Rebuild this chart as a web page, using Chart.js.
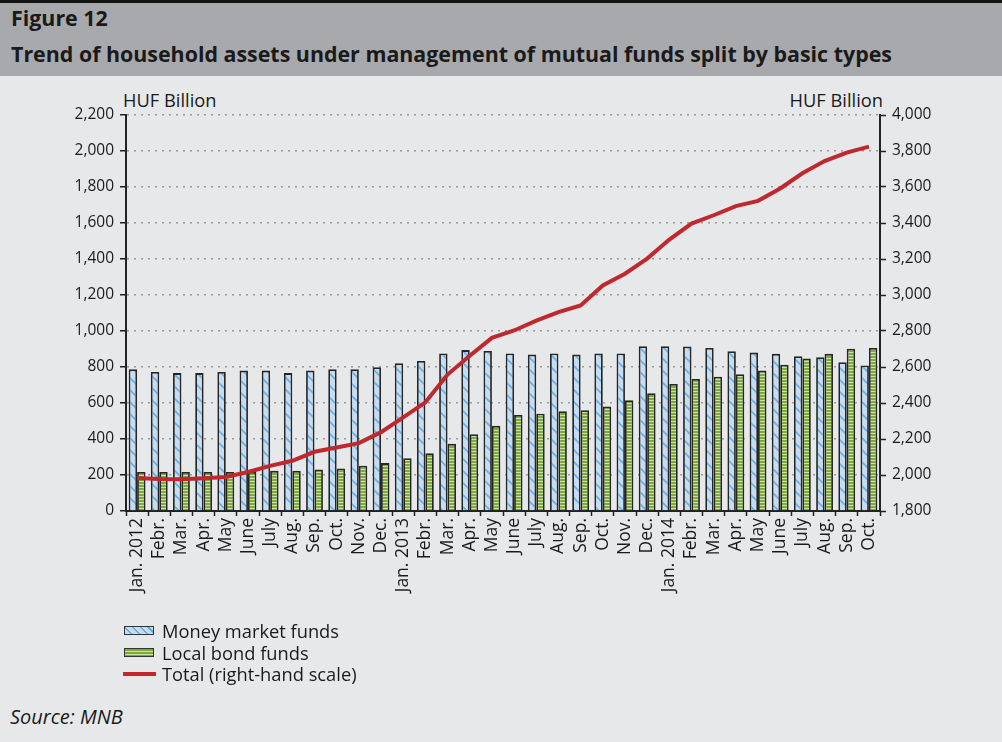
<!DOCTYPE html>
<html>
<head>
<meta charset="utf-8">
<script src="https://cdn.jsdelivr.net/npm/chart.js@4.4.1/dist/chart.umd.min.js"></script>
<style>
    body { margin: 0; width: 1002px; height: 742px; background: #e7e8ea; font-family: "Open Sans", sans-serif; color: #1a1a1a; position: relative; overflow: hidden; }
    .topline { position: absolute; left: 0; top: 0; width: 1002px; height: 3px; background: #141414; }
    .band { position: absolute; left: 0; top: 3px; width: 1002px; height: 73px; background: #a8a9ac; }
    .fig { position: absolute; left: 11px; top: 5px; font-weight: bold; font-size: 21.4px; line-height: 26px; }
    .title { position: absolute; left: 11px; top: 41px; font-weight: bold; font-size: 21.4px; line-height: 26px; white-space: nowrap; }
    .unit { position: absolute; top: 89px; font-size: 18.3px; line-height: 22px; }
    #chartBox { position: absolute; left: 0; top: 80px; width: 1002px; height: 540px; }
    .legend { position: absolute; left: 124px; top: 620px; font-size: 18.3px; line-height: 21.5px; }
    .legend div { display: flex; align-items: center; }
    .sw { width: 30px; height: 9px; margin-right: 8px; box-sizing: border-box; border: 1.5px solid #333; }
    .sw.mm { background: repeating-linear-gradient(45deg, #c6dcf1 0 4px, #6aaee0 4px 5.5px) ; }
    .sw.bond { background: repeating-linear-gradient(180deg, #7ca83c 0 2px, #cfe3a8 2px 3px); }
    .sw.tot { border: none; height: 4px; background: #c0282d; width: 33px; margin-left: -1px; margin-right: 6px; }
    .source { position: absolute; left: 10px; top: 703px; font-style: italic; font-size: 20px; }
</style>
</head>
<body>
<div class="topline"></div>
<div class="band"></div>
<div class="fig">Figure 12</div>
<div class="title">Trend of household assets under management of mutual funds split by basic types</div>
<div class="unit" style="left:123px;">HUF Billion</div>
<div class="unit" style="right:119px;">HUF Billion</div>
<div id="chartBox"><canvas id="chart"></canvas></div>
<div class="legend">
    <div><span class="sw mm"></span>Money market funds</div>
    <div><span class="sw bond"></span>Local bond funds</div>
    <div><span class="sw tot"></span>Total (right-hand scale)</div>
</div>
<div class="source">Source: MNB</div>

<script>
// months, Jan 2012 - Oct 2014
const months = ['Jan. 2012', 'Febr.', 'Mar.', 'Apr.', 'May', 'June', 'July', 'Aug.', 'Sep.', 'Oct.', 'Nov.', 'Dec.',
    'Jan. 2013', 'Febr.', 'Mar.', 'Apr.', 'May', 'June', 'July', 'Aug.', 'Sep.', 'Oct.', 'Nov.', 'Dec.',
    'Jan. 2014', 'Febr.', 'Mar.', 'Apr.', 'May', 'June', 'July', 'Aug.', 'Sep.', 'Oct.'];

// HUF billion, left scale
const moneyMarket = [787, 772, 766, 766, 772, 780, 780, 766, 780, 787, 787, 799,
    821, 834, 875, 894, 889, 875, 869, 875, 869, 875, 875, 915,
    915, 914, 906, 888, 880, 873, 860, 854, 826, 808];
const localBond = [217, 217, 217, 217, 217, 217, 223, 223, 230, 236, 251, 266,
    293, 321, 373, 427, 473, 534, 540, 554, 560, 580, 615, 654,
    706, 733, 746, 760, 780, 813, 847, 873, 901, 906];

// HUF billion, right scale
const total = [1984, 1978, 1976, 1982, 1989, 2017, 2051, 2079, 2129, 2153, 2177, 2238,
    2320, 2404, 2558, 2662, 2762, 2803, 2858, 2905, 2942, 3053, 3118, 3202,
    3308, 3397, 3443, 3494, 3523, 3592, 3676, 3744, 3791, 3824];

const leftTicks = { min: 0, max: 2200, step: 200 };
const rightTicks = { min: 1800, max: 4000, step: 200 };

function diagPattern() {
    const c = document.createElement('canvas');
    c.width = 12; c.height = 12;
    const g = c.getContext('2d');
    g.fillStyle = '#c6dcf1';
    g.fillRect(0, 0, 12, 12);
    g.strokeStyle = '#6aaee0';
    g.lineWidth = 1.6;
    g.beginPath();
    g.moveTo(-1, -1); g.lineTo(13, 13);
    g.moveTo(-2, 10); g.lineTo(2, 14);
    g.moveTo(10, -2); g.lineTo(14, 2);
    g.stroke();
    return g.createPattern(c, 'repeat');
}

function hStripePattern() {
    const c = document.createElement('canvas');
    c.width = 4; c.height = 3;
    const g = c.getContext('2d');
    g.fillStyle = '#7ca83c';
    g.fillRect(0, 0, 4, 2);
    g.fillStyle = '#cfe3a8';
    g.fillRect(0, 2, 4, 1);
    return g.createPattern(c, 'repeat');
}

const fmt = v => v.toLocaleString('en-US');
const font = { family: '"Open Sans", sans-serif', size: 15.5 };

new Chart(document.getElementById('chart'), {
    data: {
        labels: months,
        datasets: [
            {
                type: 'line',
                label: 'Total (right-hand scale)',
                data: total,
                yAxisID: 'y1',
                borderColor: '#c0282d',
                borderWidth: 4,
                pointRadius: 0,
                tension: 0,
                order: 0,
            },
            {
                type: 'bar',
                label: 'Money market funds',
                data: moneyMarket,
                yAxisID: 'y',
                backgroundColor: diagPattern(),
                borderColor: '#262626',
                borderWidth: 1.8,
                categoryPercentage: 0.76,
                barPercentage: 1,
                order: 1,
            },
            {
                type: 'bar',
                label: 'Local bond funds',
                data: localBond,
                yAxisID: 'y',
                backgroundColor: hStripePattern(),
                borderColor: '#262626',
                borderWidth: 1.8,
                categoryPercentage: 0.76,
                barPercentage: 1,
                order: 1,
            },
        ]
    },
    options: {
        responsive: true,
        maintainAspectRatio: false,
        animation: false,
        layout: { padding: { top: 35, left: 0, right: 0, bottom: 0 } },
        plugins: { legend: { display: false }, tooltip: { enabled: false } },
        scales: {
            x: {
                afterFit: s => { s.height = 109; },
                grid: { offset: true, drawOnChartArea: false, tickLength: 5, tickColor: '#222', tickWidth: 1.5 },
                border: { color: '#222', width: 2 },
                ticks: { autoSkip: false, maxRotation: 90, minRotation: 90, padding: 2, color: '#1a1a1a', font: { ...font, size: 17.5 } },
            },
            y: {
                position: 'left',
                min: leftTicks.min, max: leftTicks.max,
                afterFit: s => { s.width = 126; },
                grid: { color: '#9a9a9a', lineWidth: 1.5, tickLength: 6, tickColor: '#222', tickWidth: 1.5, tickBorderDash: [] },
                border: { color: '#222', width: 2, dash: [2, 5] },
                ticks: { stepSize: leftTicks.step, padding: 6, color: '#1a1a1a', font, callback: fmt },
            },
            y1: {
                position: 'right',
                min: rightTicks.min, max: rightTicks.max,
                afterFit: s => { s.width = 122; },
                grid: { drawOnChartArea: false, tickLength: 6, tickColor: '#222', tickWidth: 1.5 },
                border: { color: '#222', width: 2 },
                ticks: { stepSize: rightTicks.step, padding: 6, color: '#1a1a1a', font, callback: fmt },
            },
        }
    }
});
</script>
</body>
</html>
